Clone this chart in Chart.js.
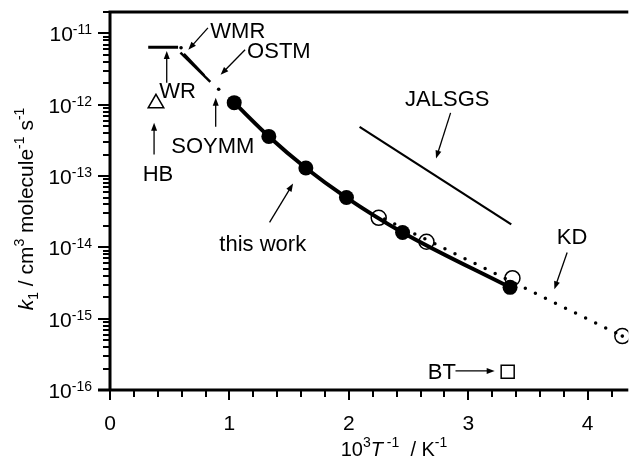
<!DOCTYPE html>
<html>
<head>
<meta charset="utf-8">
<script src="https://cdn.jsdelivr.net/npm/chart.js@4/dist/chart.umd.min.js"></script>
<style>
html, body { margin: 0; padding: 0; background: #fff; }
</style>
</head>
<body>
<canvas id="myChart" width="639" height="460"></canvas>
<script>
// x = 10^3 T^-1 / K^-1, k = k1 / cm3 molecule-1 s-1
const thisWorkX = [1.04, 1.33, 1.64, 1.98, 2.45, 3.35]
const thisWorkK = [1.07e-12, 3.6e-13, 1.3e-13, 5.0e-14, 1.62e-14, 2.75e-15]
const openX = [2.25, 2.65, 3.37, 4.29]
const openK = [2.6e-14, 1.2e-14, 3.7e-15, 5.7e-16]
const kdX = [2.3, 3.0, 4.29]
const kdK = [2.5e-14, 6.6e-15, 5.7e-16]
const jalsgsX = [2.09, 3.36]
const jalsgsK = [4.9e-13, 2.1e-14]
const wrX = [0.32, 0.57]
const wrK = [6.4e-12, 6.4e-12]
const ostmX = [0.59, 0.84]
const ostmK = [5.4e-12, 2.1e-12]
const wmrX = [0.62, 0.79]
const wmrK = [5.2e-12, 2.6e-12]
const wmrDotX = [0.595]
const wmrDotK = [6.3e-12]
const soymmX = [0.91]
const soymmK = [1.65e-12]
const hbX = [0.385]
const hbK = [1.05e-12]
const btX = [3.33]
const btK = [1.8e-16]

const xTicks = [0, 1, 2, 3, 4]
const yDecades = [-16, -15, -14, -13, -12, -11]

// annotation labels (centre x, baseline k) and arrows (from -> tip)
const noteText = ['WMR', 'OSTM', 'WR', 'HB', 'SOYMM', 'JALSGS', 'KD', 'this work', 'BT']
const noteX = [1.07, 1.414, 0.566, 0.402, 0.861, 2.824, 3.869, 1.279, 2.779]
const noteK = [8.65e-12, 4.54e-12, 1.25e-12, 8.4e-14, 2.13e-13, 9.7e-13, 1.1e-14, 8.8e-15, 1.43e-16]
const arrowFromX = [0.820, 1.131, 0.475, 0.369, 0.885, 2.852, 1.336, 3.828, 2.893]
const arrowFromK = [1.2e-11, 5.9e-12, 2.03e-12, 2.0e-13, 4.9e-13, 7.7e-13, 2.24e-14, 8.5e-15, 1.85e-16]
const arrowToX = [0.656, 0.926, 0.475, 0.369, 0.885, 2.730, 1.533, 3.721, 3.221]
const arrowToK = [5.9e-12, 2.63e-12, 5.69e-12, 5.6e-13, 1.25e-12, 1.76e-13, 7.85e-14, 2.59e-15, 1.85e-16]

const FONT = "'Liberation Sans', Arial, sans-serif"
const pts = (xs, ks) => xs.map((x, i) => ({ x: x, y: ks[i] }))

function drawRuns(ctx, runs, x, y, align) {
    let total = 0
    runs.forEach(r => {
        ctx.font = (r.italic ? 'italic ' : '') + r.size + 'px ' + FONT
        r.w = ctx.measureText(r.t).width
        total += r.w
    })
    let cx = align === 'center' ? x - total / 2 : align === 'right' ? x - total : x
    ctx.textAlign = 'left'
    ctx.textBaseline = 'alphabetic'
    runs.forEach(r => {
        ctx.font = (r.italic ? 'italic ' : '') + r.size + 'px ' + FONT
        ctx.fillText(r.t, cx, y + (r.dy || 0))
        cx += r.w
    })
}

function arrow(ctx, x1, y1, x2, y2) {
    const a = Math.atan2(y2 - y1, x2 - x1)
    const len = 8, half = 3
    const c = Math.cos(a), s = Math.sin(a)
    ctx.beginPath()
    ctx.moveTo(x1, y1)
    ctx.lineTo(x2 - len * 0.7 * c, y2 - len * 0.7 * s)
    ctx.stroke()
    ctx.beginPath()
    ctx.moveTo(x2, y2)
    ctx.lineTo(x2 - len * c + half * s, y2 - len * s - half * c)
    ctx.lineTo(x2 - len * c - half * s, y2 - len * s + half * c)
    ctx.closePath()
    ctx.fill()
}

const axesPlugin = {
    id: 'axes',
    afterDraw(chart) {
        const { ctx, chartArea: a, scales: { x, y } } = chart
        ctx.save()
        ctx.strokeStyle = '#000'
        ctx.fillStyle = '#000'
        ctx.lineWidth = 3
        ctx.beginPath()
        ctx.moveTo(a.left - 1.5, a.top)
        ctx.lineTo(a.right, a.top)
        ctx.moveTo(a.left, a.top)
        ctx.lineTo(a.left, a.bottom)
        ctx.moveTo(a.left - 12, a.bottom)
        ctx.lineTo(a.right, a.bottom)
        ctx.stroke()

        // x ticks, minor every 0.2
        ctx.lineWidth = 2
        ctx.beginPath()
        for (let i = 0; i * 0.2 <= x.max + 1e-9; i++) {
            const px = Math.round(x.getPixelForValue(i * 0.2))
            const len = i % 5 === 0 ? 10 : 7
            ctx.moveTo(px, a.bottom)
            ctx.lineTo(px, a.bottom + len)
        }
        // y ticks, log minors
        yDecades.forEach(d => {
            for (let m = 1; m <= 9; m++) {
                const v = m * Math.pow(10, d)
                if (v > y.max * 1.0001) break
                const py = Math.round(y.getPixelForValue(v))
                const len = m === 1 ? 12 : 7
                ctx.moveTo(a.left, py)
                ctx.lineTo(a.left - len, py)
            }
        })
        ctx.stroke()

        // tick labels
        ctx.font = '21px ' + FONT
        ctx.textAlign = 'center'
        ctx.textBaseline = 'alphabetic'
        xTicks.forEach(t => ctx.fillText(String(t), x.getPixelForValue(t), 430))
        yDecades.forEach(d => {
            const py = y.getPixelForValue(Math.pow(10, d))
            ctx.font = '14px ' + FONT
            const sw = ctx.measureText('-' + (-d)).width
            ctx.textAlign = 'left'
            ctx.fillText('-' + (-d), 92 - sw, py + 1)
            ctx.font = '21px ' + FONT
            ctx.textAlign = 'right'
            ctx.fillText('10', 92 - sw, py + 8)
        })

        // axis titles
        drawRuns(ctx, [
            { t: '10', size: 20 },
            { t: '3', size: 14, dy: -9 },
            { t: 'T', size: 20, italic: true },
            { t: ' -1', size: 14, dy: -9 },
            { t: '  / K', size: 20 },
            { t: '-1', size: 14, dy: -9 }
        ], 394, 456, 'center')

        ctx.save()
        ctx.translate(33, 209)
        ctx.rotate(-Math.PI / 2)
        drawRuns(ctx, [
            { t: 'k', size: 21, italic: true },
            { t: '1', size: 14, dy: 5 },
            { t: ' / cm', size: 21 },
            { t: '3', size: 14, dy: -9 },
            { t: ' molecule', size: 21 },
            { t: '-1', size: 14, dy: -9 },
            { t: ' s', size: 21 },
            { t: '-1', size: 14, dy: -9 }
        ], 0, 0, 'center')
        ctx.restore()

        // annotations
        ctx.font = '22px ' + FONT
        ctx.textAlign = 'center'
        noteText.forEach((t, i) => {
            ctx.fillText(t, x.getPixelForValue(noteX[i]), y.getPixelForValue(noteK[i]))
        })
        ctx.lineWidth = 1.3
        arrowFromX.forEach((fx, i) => {
            arrow(ctx,
                x.getPixelForValue(fx), y.getPixelForValue(arrowFromK[i]),
                x.getPixelForValue(arrowToX[i]), y.getPixelForValue(arrowToK[i]))
        })
        ctx.restore()
    }
}

const lineSet = (label, xs, ks, width, extra) => Object.assign({
    label: label,
    data: pts(xs, ks),
    showLine: true,
    borderColor: '#000',
    borderWidth: width,
    pointRadius: 0,
    fill: false
}, extra || {})

const ctx = document.getElementById('myChart').getContext('2d')
const myChart = new Chart(ctx, {
    type: 'scatter',
    data: {
        datasets: [
            {
                label: 'this work',
                data: pts(thisWorkX, thisWorkK),
                showLine: true,
                cubicInterpolationMode: 'monotone',
                borderColor: '#000',
                borderWidth: 4,
                pointRadius: 7.5,
                pointBackgroundColor: '#000',
                pointBorderColor: '#000',
                pointBorderWidth: 0,
                order: 1
            },
            {
                label: 'open',
                data: pts(openX, openK),
                pointRadius: 7.5,
                pointBackgroundColor: 'rgba(0,0,0,0)',
                pointBorderColor: '#000',
                pointBorderWidth: 1.5,
                order: 0
            },
            lineSet('KD', kdX, kdK, 3.5, {
                borderDash: [0, 11.2],
                borderCapStyle: 'round',
                pointRadius: kdX.map((v, i) => i === kdX.length - 1 ? 1.8 : 0),
                pointBackgroundColor: '#000',
                pointBorderWidth: 0,
                order: 2
            }),
            lineSet('JALSGS', jalsgsX, jalsgsK, 2.2, { order: 2 }),
            lineSet('WR', wrX, wrK, 3, { order: 2 }),
            lineSet('OSTM', ostmX, ostmK, 2.5, { order: 2 }),
            lineSet('WMR', wmrX, wmrK, 2, { order: 2 }),
            {
                label: 'dots',
                data: pts(wmrDotX, wmrDotK).concat(pts(soymmX, soymmK)),
                pointRadius: 1.8,
                pointBackgroundColor: '#000',
                pointBorderWidth: 0,
                order: 2
            },
            {
                label: 'HB',
                data: pts(hbX, hbK),
                pointStyle: 'triangle',
                pointRadius: 9,
                pointBackgroundColor: 'rgba(0,0,0,0)',
                pointBorderColor: '#000',
                pointBorderWidth: 1.5,
                order: 2
            },
            {
                label: 'BT',
                data: pts(btX, btK),
                pointStyle: 'rect',
                pointRadius: 9.2,
                pointBackgroundColor: 'rgba(0,0,0,0)',
                pointBorderColor: '#000',
                pointBorderWidth: 1.5,
                order: 2
            }
        ]
    },
    options: {
        responsive: false,
        animation: false,
        layout: { padding: { left: 110, top: 12, right: 0, bottom: 70 } },
        plugins: {
            legend: { display: false },
            tooltip: { enabled: false }
        },
        scales: {
            x: { type: 'linear', min: 0, max: 4.34, display: false },
            y: { type: 'logarithmic', min: 1e-16, max: 2e-11, display: false }
        }
    },
    plugins: [axesPlugin]
})
</script>
</body>
</html>
